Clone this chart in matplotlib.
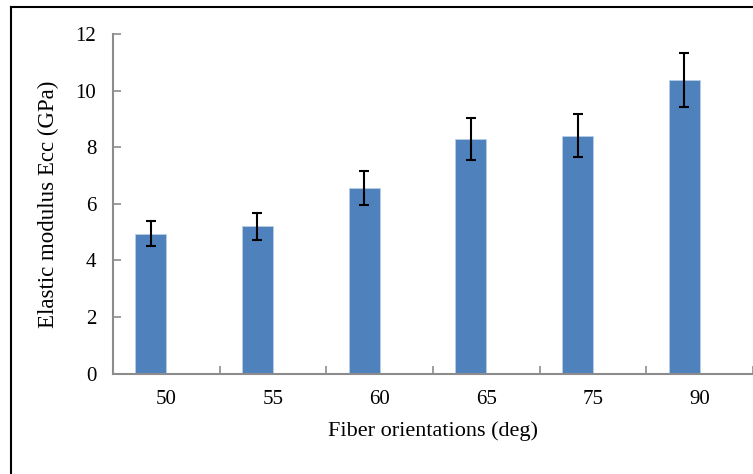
import numpy as np
import matplotlib.pyplot as plt
from matplotlib.lines import Line2D

# data
orientations = ["50", "55", "60", "65", "75", "90"]
modulus = [4.95, 5.20, 6.56, 8.30, 8.40, 10.39]
modulus_err = [0.44, 0.48, 0.59, 0.75, 0.76, 0.95]

plt.rcParams['font.family'] = ['Liberation Serif', 'DejaVu Serif']

fig = plt.figure(figsize=(7.53, 4.74), dpi=100)
ax = fig.add_axes([0.150, 0.212, 0.850, 0.716])

x = np.arange(len(orientations))
bar_w = 0.29
# bars sit in the left half of each category slot, like an Excel cluster
ax.bar(x - bar_w / 2, modulus, width=bar_w, color="#4F81BD", edgecolor="#B9CDE5", linewidth=0.6,
       yerr=modulus_err, capsize=3.6,
       error_kw=dict(ecolor="black", elinewidth=1.5, capthick=1.5))

ax.set_xlim(-0.5, len(orientations) - 0.5)
ax.set_ylim(0, 12)
ax.set_yticks(np.arange(0, 13, 2))
ax.set_xticks(x)
ax.set_xticklabels(orientations)
ax.set_xticks(np.arange(-0.5, len(orientations)), minor=True)

axis_gray = "#8C8C8C"
for side in ["top", "right"]:
    ax.spines[side].set_visible(False)
for side in ["left", "bottom"]:
    ax.spines[side].set_color(axis_gray)
    ax.spines[side].set_linewidth(1.5)

ax.tick_params(axis="x", which="major", length=0, pad=12, labelsize=15)
ax.tick_params(axis="x", which="minor", direction="in", length=6, width=1.2, color=axis_gray)
ax.tick_params(axis="y", direction="in", length=6, width=1.2, color=axis_gray, pad=12, labelsize=15)

ax.set_xlabel("Fiber orientations (deg)", fontsize=16, labelpad=9)
ax.set_ylabel("Elastic modulus Ecc (GPa)", fontsize=16.5, labelpad=12)

# outer frame lines (left and top visible in the reference)
fig.add_artist(Line2D([0.0140, 0.0140], [0.0, 0.985], transform=fig.transFigure, color="black", lw=1.5))
fig.add_artist(Line2D([0.0140, 1.0], [0.985, 0.985], transform=fig.transFigure, color="black", lw=1.5))

fig.savefig("out.png", dpi=100)
